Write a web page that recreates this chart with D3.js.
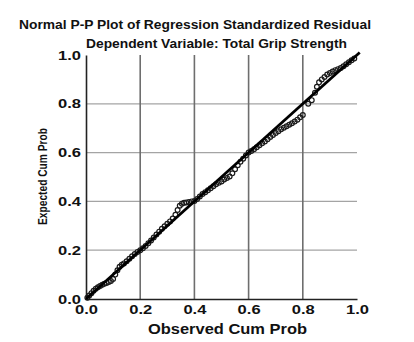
<!DOCTYPE html>
<html>
<head>
<meta charset="utf-8">
<script src="https://cdn.jsdelivr.net/npm/d3@7"></script>
<style>
  body { margin: 0; background: #fff; }
  text { font-family: "Liberation Sans", Arial, sans-serif; font-weight: bold; fill: #111; }
</style>
</head>
<body>
<svg id="chart" width="414" height="342"></svg>
<script>
const titleText = "Normal P-P Plot of Regression Standardized Residual";
const subtitleText = "Dependent Variable: Total Grip Strength";
const xTitle = "Observed Cum Prob";
const yTitle = "Expected Cum Prob";
const tickValues = [0, 0.2, 0.4, 0.6, 0.8, 1.0];

// observed vs expected cumulative probability
const observed = [
  0.005, 0.012, 0.020, 0.028, 0.036, 0.044, 0.052, 0.060, 0.068, 0.076,
  0.084, 0.092, 0.100, 0.108, 0.116, 0.124, 0.132, 0.140, 0.150, 0.160,
  0.170, 0.180, 0.190, 0.200, 0.210, 0.220, 0.230, 0.240, 0.250, 0.260,
  0.270, 0.280, 0.290, 0.300, 0.310, 0.320, 0.330, 0.338, 0.346, 0.354,
  0.362, 0.370, 0.380, 0.390, 0.400, 0.410, 0.420, 0.430, 0.440, 0.450,
  0.460, 0.470, 0.480, 0.490, 0.500, 0.510, 0.520, 0.530, 0.540, 0.550,
  0.560, 0.570, 0.580, 0.590, 0.600, 0.610, 0.620, 0.630, 0.640, 0.650,
  0.660, 0.670, 0.680, 0.690, 0.700, 0.710, 0.720, 0.730, 0.740, 0.750,
  0.760, 0.770, 0.780, 0.790, 0.800, 0.820, 0.833, 0.845, 0.852, 0.860,
  0.870, 0.880, 0.890, 0.900, 0.910, 0.920, 0.930, 0.940, 0.950, 0.960,
  0.970, 0.980, 0.990
];
const expected = [
  0.005, 0.014, 0.024, 0.034, 0.042, 0.048, 0.053, 0.058, 0.062, 0.066,
  0.070, 0.074, 0.082, 0.100, 0.118, 0.132, 0.140, 0.146, 0.155, 0.165,
  0.175, 0.184, 0.193, 0.200, 0.208, 0.217, 0.228, 0.240, 0.252, 0.264,
  0.276, 0.288, 0.298, 0.308, 0.318, 0.330, 0.345, 0.365, 0.382, 0.390,
  0.394, 0.396, 0.398, 0.400, 0.402, 0.410, 0.420, 0.430, 0.438, 0.446,
  0.454, 0.462, 0.470, 0.476, 0.482, 0.490, 0.496, 0.502, 0.515, 0.532,
  0.548, 0.562, 0.575, 0.588, 0.600, 0.607, 0.614, 0.622, 0.630, 0.638,
  0.646, 0.655, 0.664, 0.672, 0.680, 0.688, 0.696, 0.702, 0.708, 0.714,
  0.720, 0.727, 0.735, 0.745, 0.754, 0.800, 0.815, 0.845, 0.870, 0.888,
  0.900, 0.910, 0.920, 0.926, 0.932, 0.938, 0.942, 0.947, 0.954, 0.962,
  0.970, 0.978, 0.986
];

const svg = d3.select('#chart');
const margin = {left: 86, right: 57, top: 55, bottom: 43};
const W = 414, H = 342;

const x = d3.scaleLinear().domain([0, 1]).range([margin.left, W - margin.right]);
const y = d3.scaleLinear().domain([0, 1]).range([H - margin.bottom, margin.top]);

// horizontal grid (light)
svg.append('g')
  .selectAll('line')
  .data(tickValues.slice(1, -1))
  .enter().append('line')
  .attr('x1', x(0)).attr('x2', x(1))
  .attr('y1', d => y(d)).attr('y2', d => y(d))
  .attr('stroke', '#a4a4a4').attr('stroke-width', 1.2);

// vertical grid (darker)
svg.append('g')
  .selectAll('line')
  .data(tickValues.slice(1, -1))
  .enter().append('line')
  .attr('x1', d => x(d)).attr('x2', d => x(d))
  .attr('y1', y(0)).attr('y2', y(1))
  .attr('stroke', '#6e6e6e').attr('stroke-width', 1.6);

// axes via d3 axis, no tick lines
const xAxis = svg.append('g')
  .attr('transform', `translate(0,${y(0)})`)
  .call(d3.axisBottom(x).tickValues(tickValues).tickFormat(d3.format('.1f')).tickSize(0).tickPadding(6));
const yAxis = svg.append('g')
  .attr('transform', `translate(${x(0)},0)`)
  .call(d3.axisLeft(y).tickValues(tickValues).tickFormat(d3.format('.1f')).tickSize(0).tickPadding(5));

[xAxis, yAxis].forEach(g => {
  g.select('.domain').attr('stroke', '#222').attr('stroke-width', 1.6);
  g.selectAll('text')
    .attr('font-family', '"Liberation Sans", Arial, sans-serif')
    .attr('font-weight', 'bold')
    .attr('font-size', 12.5)
    .attr('fill', '#111')
    .attr('textLength', 23)
    .attr('lengthAdjust', 'spacingAndGlyphs');
});
xAxis.selectAll('text').attr('dy', '0.71em');

// points
svg.append('g')
  .selectAll('circle')
  .data(observed.map((o, i) => [o, expected[i]]))
  .enter().append('circle')
  .attr('cx', d => x(d[0]))
  .attr('cy', d => y(d[1]))
  .attr('r', 2.4)
  .attr('fill', 'none')
  .attr('stroke', '#1a1a1a')
  .attr('stroke-width', 1.2);

// reference line
svg.append('line')
  .attr('x1', x(0)).attr('y1', y(0))
  .attr('x2', x(1.01)).attr('y2', y(1.01))
  .attr('stroke', '#000').attr('stroke-width', 2.8);

// titles
svg.append('text')
  .attr('x', 19).attr('y', 29)
  .attr('font-size', 12)
  .attr('textLength', 352).attr('lengthAdjust', 'spacingAndGlyphs')
  .text(titleText);

svg.append('text')
  .attr('x', 86).attr('y', 48)
  .attr('font-size', 12)
  .attr('textLength', 261).attr('lengthAdjust', 'spacingAndGlyphs')
  .text(subtitleText);

svg.append('text')
  .attr('x', 148).attr('y', 334)
  .attr('font-size', 15)
  .attr('textLength', 159).attr('lengthAdjust', 'spacingAndGlyphs')
  .text(xTitle);

svg.append('text')
  .attr('transform', 'translate(47,225) rotate(-90)')
  .attr('font-size', 12.5)
  .attr('textLength', 97).attr('lengthAdjust', 'spacingAndGlyphs')
  .text(yTitle);
</script>
</body>
</html>
